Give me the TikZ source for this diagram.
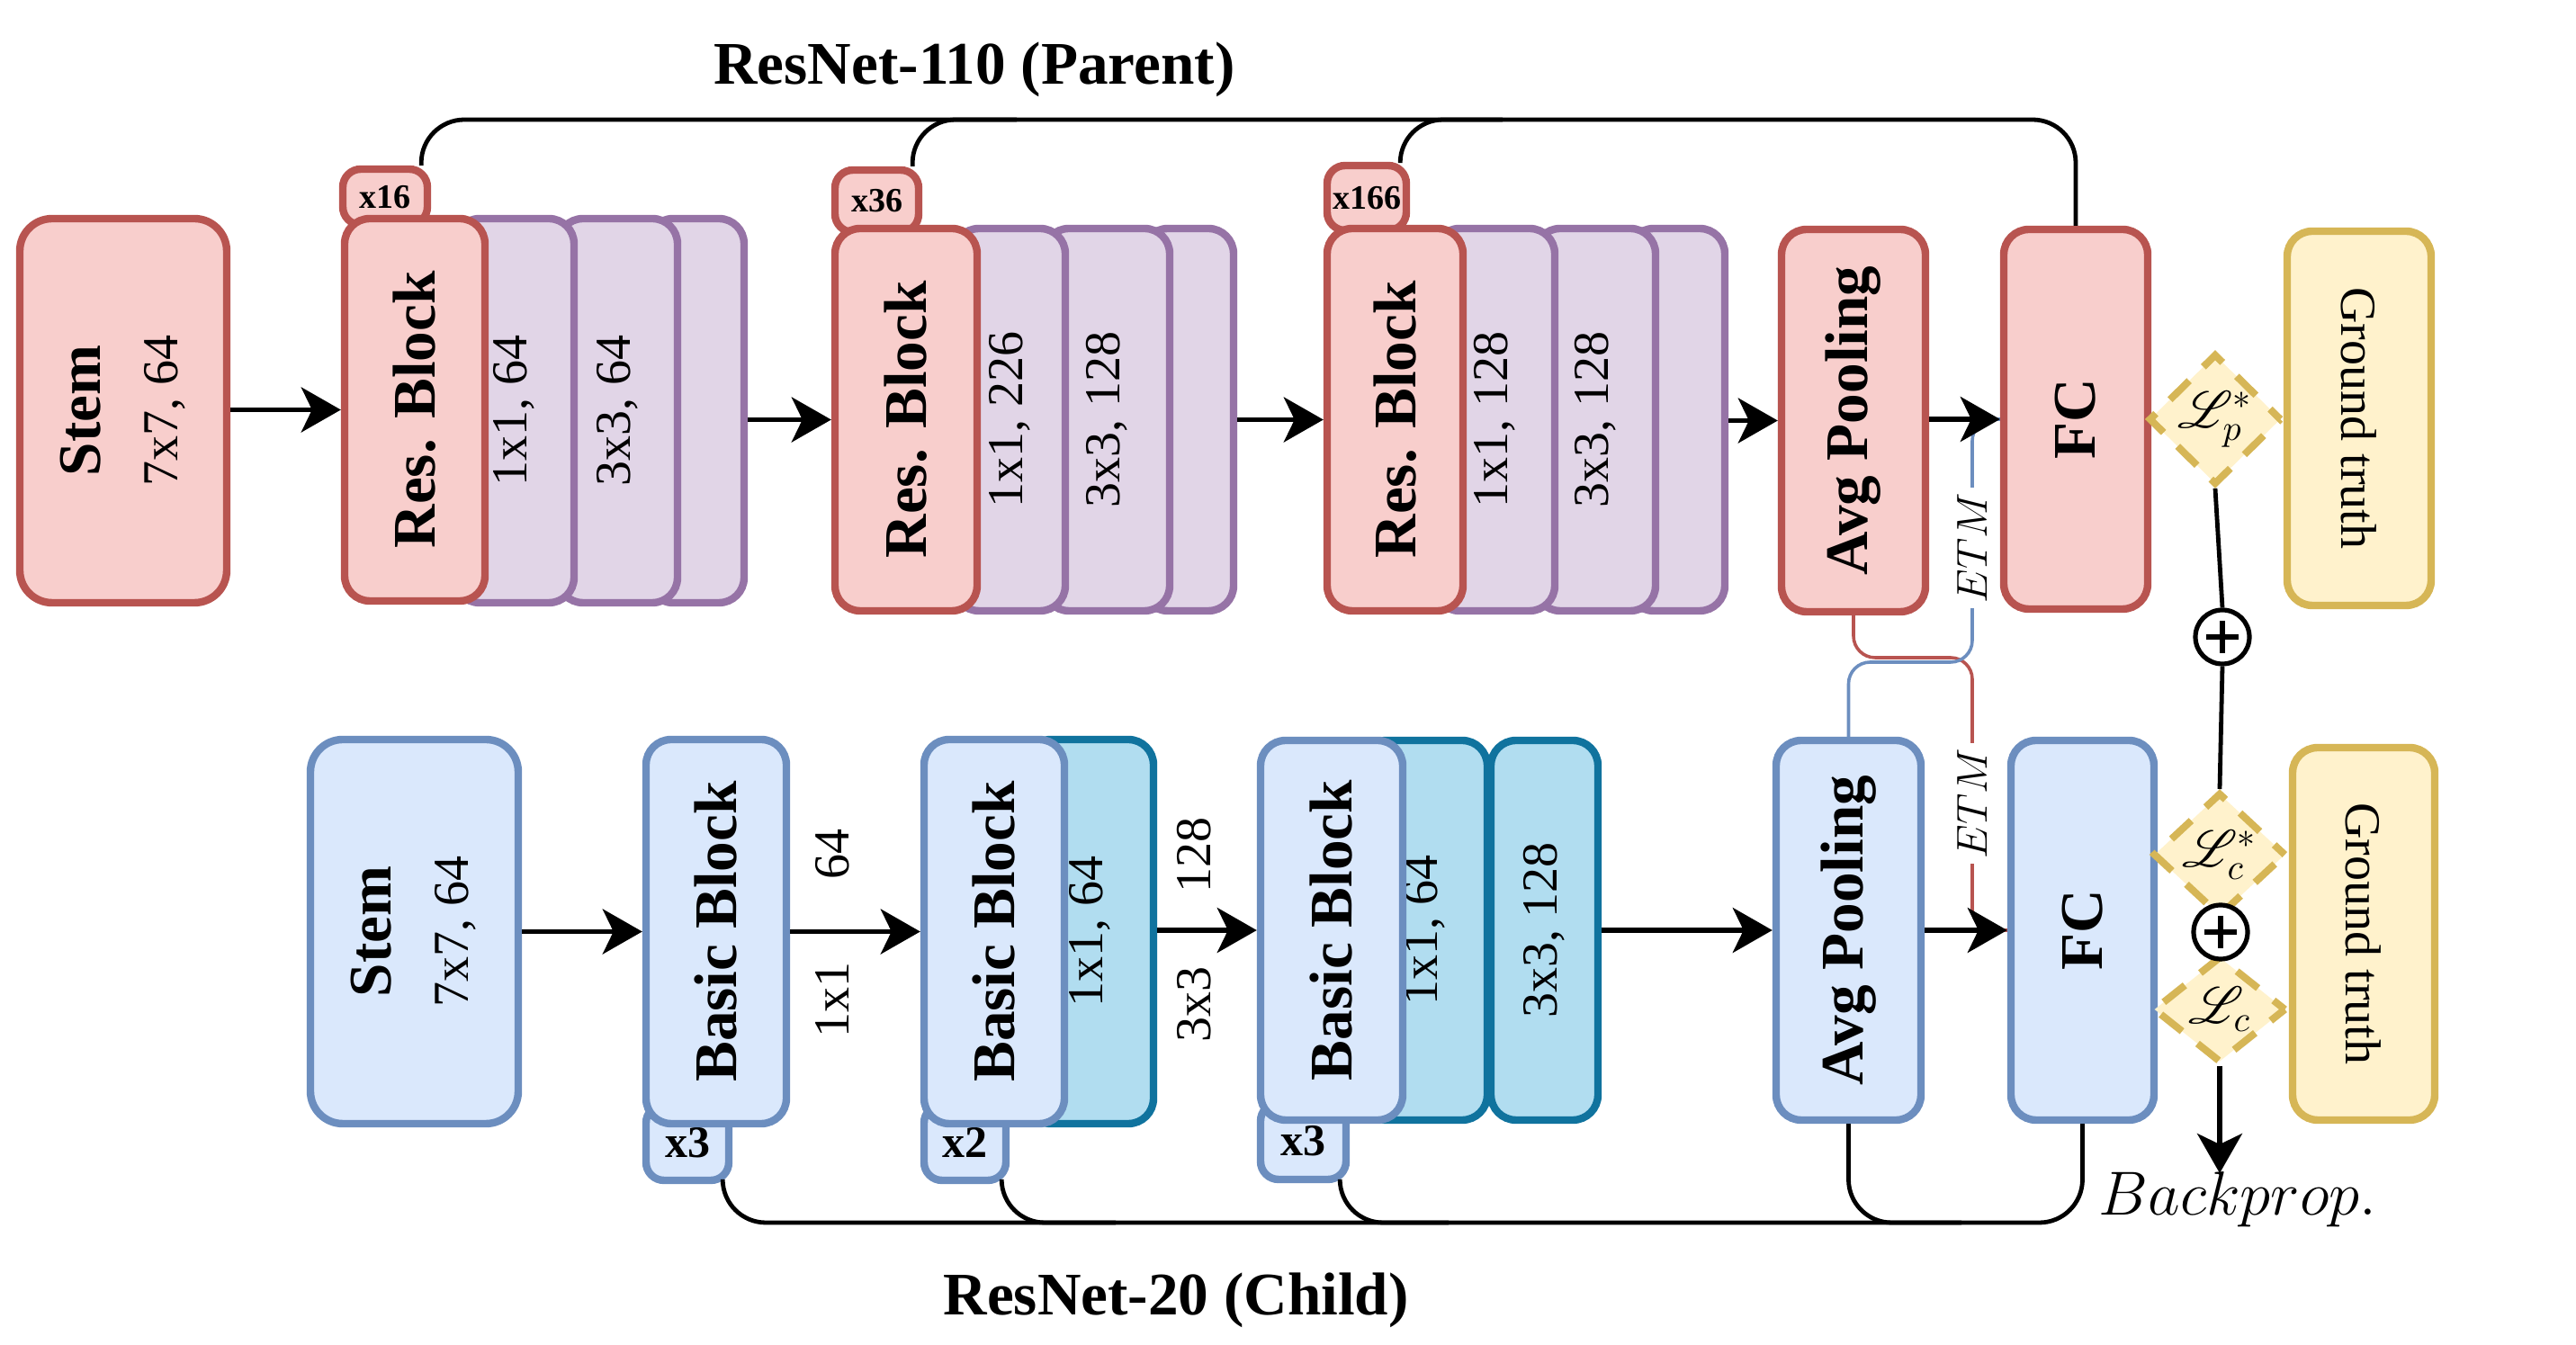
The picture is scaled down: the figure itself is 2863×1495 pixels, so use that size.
\documentclass[tikz,border=0pt]{standalone}
\usepackage{fontspec}
\setmainfont{Liberation Serif}
\usepackage{mathrsfs}
\usetikzlibrary{calc,arrows.meta,shapes.geometric}
\definecolor{redF}{HTML}{F8CECC}\definecolor{redD}{HTML}{B85450}
\definecolor{purF}{HTML}{E1D5E7}\definecolor{purD}{HTML}{9673A6}
\definecolor{bluF}{HTML}{DAE8FC}\definecolor{bluD}{HTML}{6C8EBF}
\definecolor{teaF}{HTML}{B1DDF0}\definecolor{teaD}{HTML}{10739E}
\definecolor{yelF}{HTML}{FFF2CC}\definecolor{yelD}{HTML}{D6B656}
\newcommand\vtext[1]{\rotatebox{90}{\begin{tabular}{@{}c@{}}#1\end{tabular}}}
\tikzset{
 spanat/.style n args={4}{minimum width={(#3-#1)*0.25pt}, minimum height={(#4-#2)*0.25pt}, at={({(#1+#3)/2},{(#2+#4)/2})}},
 bx/.style={rectangle, rounded corners=7pt, line width=2.1pt, inner sep=0pt},
 redb/.style={bx, draw=redD, fill=redF},
 purb/.style={bx, draw=purD, fill=purF},
 blub/.style={bx, draw=bluD, fill=bluF},
 teab/.style={bx, draw=teaD, fill=teaF},
 yelb/.style={bx, draw=yelD, fill=yelF},
 bigt/.style={font=\bfseries\fontsize{16.8}{20}\selectfont},
 regt/.style={font=\fontsize{14}{17}\selectfont},
 stemf/.style={font=\fontsize{14}{21.5}\selectfont},
 tabt/.style={font=\bfseries\fontsize{9.5}{11}\selectfont, rounded corners=5pt},
 tabb/.style={font=\bfseries\fontsize{12.5}{14}\selectfont, rounded corners=5pt},
 arr/.style={line width=1.3pt, -{Stealth[length=11pt,width=12.5pt,inset=3pt]}},
 lp/.style={line width=1.2pt},
 lossd/.style={diamond, draw=yelD, fill=yelF, line width=2pt, dash pattern=on 7.5pt off 5.5pt, dash phase=3.5pt, inner sep=0pt, minimum width=37pt, minimum height=28pt, font=\fontsize{14}{16}\selectfont},
 pls/.style={circle, draw, fill=white, line width=1.3pt, minimum size=15pt, inner sep=0pt},
 etm/.style={rotate=90, fill=white, inner sep=1.5pt, font=\fontsize{12.5}{14}\selectfont},
 etmline/.style={line width=0.9pt, rounded corners=6pt},
}
\begin{document}
\begin{tikzpicture}[x=0.25pt, y=-0.25pt]
\useasboundingbox (0,0) rectangle (2863,1495);
% titles
\node[bigt] (titleP) at (1083,77) {ResNet-110 (Parent)};
\node[bigt] (titleC) at (1307,1445) {ResNet-20 (Child)};
% ---------- top row ----------
\node[redb, stemf, rounded corners=9pt, spanat={22}{243}{252}{670}] (stemT) {\vtext{\bfseries\fontsize{16.8}{21.5}\selectfont Stem\\7x7, 64}};
% block 1
\node[purb, spanat={720}{243}{827}{670}] (p1c) {};
\node[purb, regt, spanat={620}{243}{753}{670}] (p1b) {\rotatebox{90}{3x3, 64}};
\node[purb, regt, spanat={505}{243}{638}{670}] (p1a) {\rotatebox{90}{1x1, 64}};
\node[redb, tabt, spanat={381}{188}{475}{250}] (tab1) {x16};
\node[redb, bigt, spanat={383}{243}{539}{668}] (res1) {\rotatebox{90}{Res. Block}};
% block 2
\node[purb, spanat={1270}{254}{1371}{679}] (p2c) {};
\node[purb, regt, spanat={1160}{254}{1300}{679}] (p2b) {\rotatebox{90}{3x3, 128}};
\node[purb, regt, spanat={1060}{254}{1184}{679}] (p2a) {\rotatebox{90}{1x1, 226}};
\node[redb, tabt, spanat={928}{189}{1021}{258}] (tab2) {x36};
\node[redb, bigt, spanat={928}{254}{1086}{679}] (res2) {\rotatebox{90}{Res. Block}};
% block 3
\node[purb, spanat={1810}{254}{1917}{679}] (p3c) {};
\node[purb, regt, spanat={1706}{254}{1840}{679}] (p3b) {\rotatebox{90}{3x3, 128}};
\node[purb, regt, spanat={1594}{254}{1728}{679}] (p3a) {\rotatebox{90}{1x1, 128}};
\node[redb, tabt, spanat={1475}{184}{1563}{256}] (tab3) {x166};
\node[redb, bigt, spanat={1475}{254}{1626}{679}] (res3) {\rotatebox{90}{Res. Block}};
% head
\node[redb, bigt, spanat={1980}{255}{2140}{680}] (avgT) {\rotatebox{90}{Avg Pooling}};
\node[redb, bigt, spanat={2227}{255}{2387}{677}] (FC) {\rotatebox{90}{FC}};
\node[yelb, regt, spanat={2542}{257}{2702}{673}] (gtT) {\rotatebox{-90}{Ground truth}};
% ---------- bottom row ----------
\node[blub, stemf, rounded corners=9pt, spanat={345}{822}{576}{1249}] (stemB) {\vtext{\bfseries\fontsize{16.8}{21.5}\selectfont Stem\\7x7, 64}};
\node[blub, tabb, spanat={718}{1228}{810}{1312}] (btab1) {x3};
\node[blub, bigt, spanat={718}{822}{874}{1249}] (bb1) {\rotatebox{90}{Basic Block}};
\node[teab, regt, spanat={1140}{822}{1282}{1249}] (t2) {\rotatebox{90}{1x1, 64}};
\node[blub, tabb, spanat={1027}{1228}{1118}{1312}] (btab2) {x2};
\node[blub, bigt, spanat={1027}{822}{1183}{1249}] (bb2) {\rotatebox{90}{Basic Block}};
\node[teab, regt, spanat={1657}{823}{1776}{1245}] (t3b) {\rotatebox{90}{3x3, 128}};
\node[teab, regt, spanat={1513}{823}{1653}{1245}] (t3a) {\rotatebox{90}{1x1, 64}};
\node[blub, tabb, spanat={1401}{1226}{1496}{1311}] (btab3) {x3};
\node[blub, bigt, spanat={1401}{823}{1559}{1245}] (bb3) {\rotatebox{90}{Basic Block}};
\node[blub, bigt, spanat={1974}{823}{2135}{1245}] (avgB) {\rotatebox{90}{Avg Pooling}};
\node[blub, bigt, spanat={2235}{823}{2394}{1245}] (FCb) {\rotatebox{90}{FC}};
\node[yelb, regt, spanat={2548}{831}{2706}{1245}] (gtB) {\rotatebox{-90}{Ground truth}};
% between-block labels
\node[regt, rotate=90] (l64) at (925,950) {64};
\node[regt, rotate=90] (l1x1) at (925,1112) {1x1};
\node[regt, rotate=90] (l128) at (1327,951) {128};
\node[regt, rotate=90] (l3x3) at (1327,1117) {3x3};
% ---------- loops ----------
\coordinate (yTop) at (0,133);
\coordinate (jT2) at (1130,133);
\coordinate (jT3) at (1670,133);
\draw[lp, rounded corners=12pt] ($(tab1.north east)+(-11,0)$) |- (FC.north |- yTop) -- (FC.north);
\draw[lp, rounded corners=12pt] ($(tab2.north east)+(-11,0)$) |- (jT2);
\draw[lp, rounded corners=12pt] ($(tab3.north east)+(-11,0)$) |- (jT3);
\coordinate (yBot) at (0,1359);
\coordinate (jB2) at (1240,1359);
\coordinate (jB3) at (1610,1359);
\coordinate (jB4) at (2180,1359);
\draw[lp, rounded corners=12pt] ($(btab1.south east)+(-11,0)$) |- (FCb.south |- yBot) -- (FCb.south);
\draw[lp, rounded corners=12pt] ($(btab2.south east)+(-9,0)$) |- (jB2);
\draw[lp, rounded corners=12pt] ($(btab3.south east)+(-11,0)$) |- (jB3);
\draw[lp, rounded corners=12pt] (avgB.south) |- (jB4);
% ---------- ETM lines ----------
\coordinate (etmA) at (2192,731);
\coordinate (etmB) at (2192,736);
\draw[etmline, draw=redD] (avgT.south) |- (etmA) -- (etmA |- FCb.west) -- (FCb.west);
\draw[etmline, draw=bluD] (avgB.north) |- (etmB) -- (etmB |- FC.west) -- (FC.west);
% ---------- arrows ----------
\draw[arr] (stemT.east |- res1.west) -- (res1.west);
\draw[arr] (p1c.east |- res2.west) -- (res2.west);
\draw[arr] (p2c.east |- res3.west) -- (res3.west);
\draw[arr] (p3c.east |- avgT.west) -- (avgT.west);
\draw[arr] (avgT.east |- FC.west) -- (FC.west);
\draw[arr] (stemB.east |- bb1.west) -- (bb1.west);
\draw[arr] (bb1.east |- bb2.west) -- (bb2.west);
\draw[arr] (t2.east |- bb3.west) -- (bb3.west);
\draw[arr] (t3b.east |- avgB.west) -- (avgB.west);
\draw[arr] (avgB.east |- FCb.west) -- (FCb.west);
\node[etm] (etm1) at (2192,609) {$ETM$};
\node[etm] (etm2) at (2192,893) {$ETM$};
% ---------- losses ----------
\node[lossd] (Lp) at (2462,466) {$\mathscr{L}_p^*$};
\node[lossd] (Lcs) at (2467,950) {$\mathscr{L}_c^*$};
\node[lossd] (Lc) at (2467,1122) {$\mathscr{L}_c$};
\node[pls] (pl1) at (2470,708) {};
\node[pls] (pl2) at (2468,1036) {};
\draw[line width=1.4pt] ($(pl1.center)+(-18,0)$) -- ($(pl1.center)+(18,0)$);
\draw[line width=1.4pt] ($(pl1.center)+(0,-18)$) -- ($(pl1.center)+(0,18)$);
\draw[line width=1.4pt] ($(pl2.center)+(-18,0)$) -- ($(pl2.center)+(18,0)$);
\draw[line width=1.4pt] ($(pl2.center)+(0,-18)$) -- ($(pl2.center)+(0,18)$);
\draw[lp] (Lp.south) -- (pl1.north);
\draw[lp] (pl1.south) -- (Lcs.north);
\coordinate (bpEnd) at (2467,1304);
\draw[arr] (Lc.south) -- (bpEnd);
\node[anchor=west, inner sep=0pt, font=\fontsize{16.5}{20}\selectfont] (bp) at (2332,1333) {$Backprop.$};
\end{tikzpicture}
\end{document}
